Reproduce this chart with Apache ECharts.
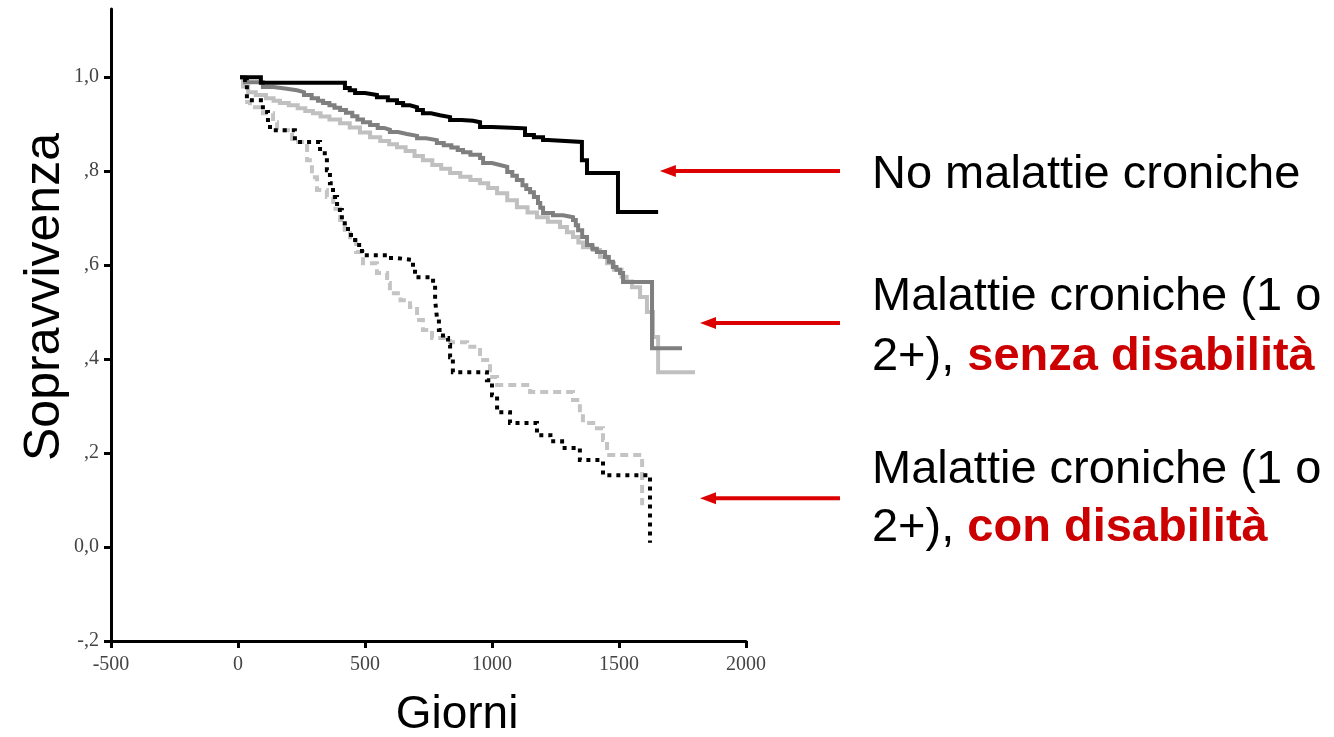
<!DOCTYPE html>
<html><head><meta charset="utf-8">
<script src="https://cdn.jsdelivr.net/npm/echarts@6/dist/echarts.min.js"></script>
<style>html,body{margin:0;padding:0;background:#fff}#c{width:1334px;height:737px}</style>
</head><body><div id="c"></div>
<script>
// ---- data (days, survival) ----
const xTicks = [-500, 0, 500, 1000, 1500, 2000];
const yTicks = [-0.2, 0, 0.2, 0.4, 0.6, 0.8, 1.0];
const yTickLabels = ['-,2', '0,0', ',2', ',4', ',6', ',8', '1,0'];

const noChronic = [[8,1.0],[90,0.988],[402,0.988],[421,0.977],[440,0.972],[461,0.966],[500,0.962],[547,0.957],[590,0.951],[626,0.945],[650,0.940],[677,0.936],[705,0.930],[728,0.923],[760,0.919],[795,0.915],[835,0.909],[880,0.907],[925,0.904],[953,0.894],[1000,0.893],[1050,0.892],[1098,0.891],[1130,0.877],[1165,0.872],[1201,0.866],[1220,0.862],[1354,0.823],[1374,0.796],[1496,0.713],[1654,0.713]];
const chronicNoDis1 = [[8,1.0],[28,0.989],[98,0.979],[140,0.976],[185,0.972],[232,0.968],[260,0.962],[290,0.955],[315,0.950],[335,0.945],[360,0.940],[380,0.935],[402,0.930],[425,0.924],[450,0.917],[470,0.910],[492,0.904],[520,0.898],[550,0.892],[575,0.888],[598,0.883],[630,0.879],[665,0.875],[705,0.870],[740,0.866],[783,0.860],[810,0.855],[840,0.850],[865,0.845],[886,0.840],[915,0.835],[953,0.828],[965,0.817],[1000,0.813],[1031,0.809],[1060,0.798],[1080,0.790],[1098,0.781],[1120,0.770],[1135,0.762],[1150,0.755],[1165,0.745],[1181,0.732],[1190,0.722],[1201,0.711],[1240,0.706],[1280,0.702],[1319,0.696],[1330,0.685],[1339,0.674],[1355,0.660],[1374,0.643],[1395,0.635],[1413,0.628],[1445,0.617],[1460,0.607],[1476,0.596],[1490,0.590],[1504,0.583],[1516,0.564],[1630,0.423],[1748,0.423]];
const chronicNoDis2 = [[8,1.0],[20,0.980],[40,0.968],[70,0.962],[110,0.955],[140,0.950],[165,0.945],[200,0.940],[235,0.934],[265,0.928],[295,0.923],[325,0.916],[360,0.910],[402,0.902],[440,0.893],[480,0.882],[520,0.872],[560,0.864],[595,0.857],[626,0.851],[660,0.843],[695,0.832],[728,0.823],[765,0.813],[800,0.805],[835,0.796],[875,0.788],[915,0.781],[953,0.774],[985,0.764],[1020,0.753],[1060,0.738],[1098,0.723],[1140,0.712],[1177,0.702],[1220,0.692],[1268,0.681],[1295,0.670],[1319,0.660],[1340,0.648],[1358,0.638],[1398,0.632],[1425,0.618],[1453,0.604],[1480,0.590],[1510,0.575],[1530,0.565],[1551,0.553],[1583,0.532],[1610,0.500],[1634,0.447],[1654,0.372],[1799,0.372]];
const chronicDis1 = [[20,0.994],[35,0.951],[98,0.926],[118,0.904],[126,0.887],[224,0.862],[323,0.838],[350,0.802],[362,0.774],[374,0.745],[390,0.717],[409,0.689],[433,0.664],[461,0.643],[488,0.621],[587,0.615],[626,0.611],[689,0.594],[697,0.574],[768,0.557],[776,0.526],[783,0.489],[791,0.462],[807,0.445],[827,0.430],[835,0.404],[846,0.372],[980,0.355],[1000,0.323],[1020,0.287],[1071,0.264],[1177,0.238],[1230,0.225],[1276,0.211],[1346,0.185],[1437,0.153],[1622,0.009]];
const chronicDis2 = [[28,0.947],[47,0.936],[98,0.923],[138,0.904],[154,0.887],[213,0.862],[272,0.823],[291,0.787],[311,0.760],[350,0.745],[375,0.720],[402,0.696],[420,0.675],[441,0.653],[465,0.628],[492,0.604],[547,0.583],[587,0.562],[598,0.540],[640,0.525],[677,0.511],[705,0.483],[728,0.462],[764,0.445],[835,0.436],[902,0.426],[953,0.398],[992,0.362],[1020,0.345],[1150,0.330],[1319,0.313],[1346,0.291],[1358,0.264],[1413,0.253],[1437,0.228],[1453,0.196],[1591,0.196],[1591,0.089]];

const chart = echarts.init(document.getElementById('c'), null, {renderer: 'canvas'});
const serif = '"Liberation Serif","DejaVu Serif",serif';
const sans = '"Liberation Sans",Arial,Helvetica,sans-serif';

function kmSeries(name, data, color, type, width) {
  return {
    name, type: 'line', data, step: 'end', symbol: 'none', silent: true,
    lineStyle: {color, width, type, cap: 'butt', join: 'miter'},
    z: 3
  };
}

chart.setOption({
  animation: false,
  backgroundColor: '#fff',
  grid: {left: 111, right: 588, top: 9, bottom: 96, containLabel: false},
  xAxis: {
    type: 'value', min: -500, max: 2000, interval: 500,
    axisLine: {onZero: false, lineStyle: {color: '#000', width: 3}},
    axisTick: {show: true, length: 7, customValues: xTicks, lineStyle: {color: '#000', width: 3}},
    axisLabel: {customValues: xTicks, color: '#444', fontFamily: serif, fontSize: 20, margin: 14, formatter: v => String(v)},
    splitLine: {show: false}
  },
  yAxis: {
    type: 'value', min: -0.2, max: 1.145, interval: 0.2,
    axisLine: {onZero: false, lineStyle: {color: '#000', width: 3}},
    axisTick: {show: true, length: 7, customValues: yTicks, lineStyle: {color: '#000', width: 3}},
    axisLabel: {
      customValues: yTicks, color: '#444', fontFamily: serif, fontSize: 20, margin: 12,
      formatter: v => { const i = yTicks.findIndex(t => Math.abs(t - v) < 1e-6); return i >= 0 ? yTickLabels[i] : ''; }
    },
    splitLine: {show: false}
  },
  series: [
    kmSeries('Malattie croniche (2+), senza disabilità', chronicNoDis2, '#c0c0c0', 'solid', 4),
    kmSeries('Malattie croniche (1), senza disabilità', chronicNoDis1, '#7f7f7f', 'solid', 4),
    kmSeries('Malattie croniche (2+), con disabilità', chronicDis2, '#c4c4c4', [8, 5], 4),
    kmSeries('Malattie croniche (1), con disabilità', chronicDis1, '#000', [4, 5], 4),
    kmSeries('No malattie croniche', noChronic, '#000', 'solid', 4)
  ]
});

// ---- annotations (placed in data coordinates) ----
const arrows = [
  {tip: [1661, 0.8], tail: [2370, 0.8]},
  {tip: [1819, 0.477], tail: [2370, 0.477]},
  {tip: [1819, 0.104], tail: [2370, 0.104]}
];
const labelLines = [
  {at: [2496, 0.791], parts: [['n', 'No malattie croniche']]},
  {at: [2496, 0.532], parts: [['n', 'Malattie croniche (1 o']]},
  {at: [2496, 0.404], parts: [['n', '2+), '], ['r', 'senza disabilità']]},
  {at: [2496, 0.164], parts: [['n', 'Malattie croniche (1 o']]},
  {at: [2496, 0.040], parts: [['n', '2+), '], ['r', 'con disabilità']]}
];
const px = p => chart.convertToPixel({gridIndex: 0}, p);
const red = '#dc0000';
const graphics = [];
arrows.forEach(a => {
  const t = px(a.tip), s = px(a.tail);
  graphics.push({type: 'line', shape: {x1: t[0] + 12, y1: t[1], x2: s[0], y2: s[1]}, style: {stroke: red, lineWidth: 4}, silent: true});
  graphics.push({type: 'polygon', shape: {points: [[t[0], t[1]], [t[0] + 16, t[1] - 6], [t[0] + 16, t[1] + 6]]}, style: {fill: red}, silent: true});
});
labelLines.forEach(l => {
  const p = px(l.at);
  graphics.push({
    type: 'text', x: p[0], y: p[1], silent: true,
    style: {
      text: l.parts.map(q => '{' + q[0] + '|' + q[1] + '}').join(''),
      verticalAlign: 'middle', align: 'left',
      rich: {
        n: {fontFamily: sans, fontSize: 47, fill: '#000'},
        r: {fontFamily: sans, fontSize: 47, fill: '#cc0000', fontWeight: 'bold'}
      }
    }
  });
});
// axis titles
graphics.push({type: 'text', x: 45, y: 297, rotation: Math.PI / 2, silent: true,
  style: {text: 'Sopravvivenza', fontFamily: sans, fontSize: 50, fill: '#000', align: 'center', verticalAlign: 'middle'}});
graphics.push({type: 'text', x: 457, y: 715, silent: true,
  style: {text: 'Giorni', fontFamily: sans, fontSize: 46, fill: '#000', align: 'center', verticalAlign: 'middle'}});
chart.setOption({graphic: graphics});
</script>
</body></html>
